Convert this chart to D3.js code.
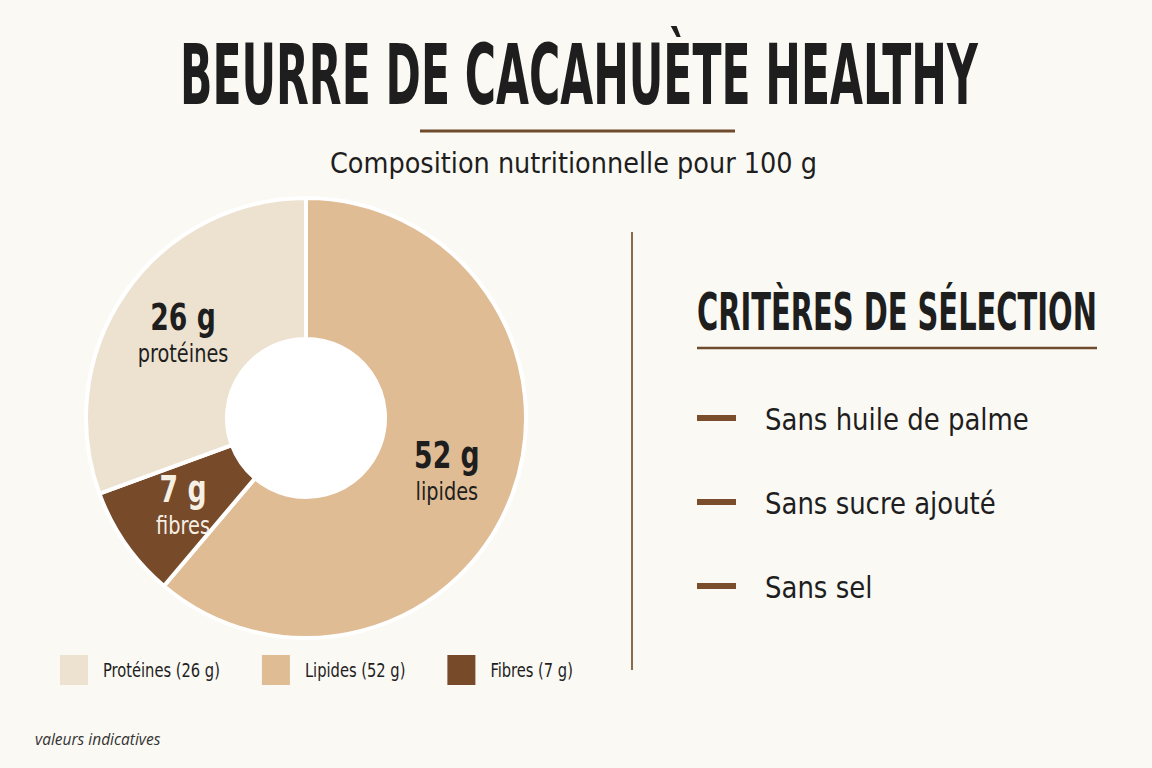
<!DOCTYPE html>
<html lang="fr">
<head>
    <meta charset="UTF-8">
    <title>Beurre de cacahuète healthy</title>
    <script src="https://d3js.org/d3.v7.min.js"></script>
    <style>
        body {
            margin: 0;
            background: #fbf9f4;
        }
        svg {
            display: block;
        }
        .cond {
            font-family: "Liberation Sans Narrow", "DejaVu Sans Condensed", "Roboto", sans-serif;
        }
        .note {
            font-family: "Open Sans", sans-serif;
            font-style: italic;
            font-size: 15.5px;
            fill: #333;
        }
    </style>
</head>
<body>

<div id="chart"></div>

<script>
    // composition pour 100 g
    const categories = ["Protéines", "Lipides", "Fibres"];
    const values = [26, 52, 7];
    const sliceNames = ["protéines", "lipides", "fibres"];
    const colors = ["#ede2d0", "#dfbc94", "#774a2a"];
    const pieOrder = ["Lipides", "Fibres", "Protéines"]; // sens horaire depuis midi
    const criteria = ["Sans huile de palme", "Sans sucre ajouté", "Sans sel"];

    const width = 1152;
    const height = 768;
    const dark = "#1e1e1e";
    const brown = "#7a4e2d";

    const svg = d3.select("#chart")
        .append("svg")
        .attr("width", width)
        .attr("height", height);

    svg.append("rect")
        .attr("width", width)
        .attr("height", height)
        .attr("fill", "#fbf9f4");

    // texte condensé : on resserre horizontalement avec un scale
    function condText(parent, x, y, size, bold, str, sx) {
        const t = parent.append("text")
            .attr("class", "cond")
            .attr("font-size", size)
            .attr("font-weight", bold ? "bold" : "normal")
            .attr("fill", dark)
            .text(str);
        t.attr("transform", `translate(${x},${y}) scale(${sx},1)`);
        return t;
    }

    function fitWidth(t, x, y, target) {
        const w = t.node().getComputedTextLength();
        t.attr("transform", `translate(${x},${y}) scale(${target / w},1)`);
        return target / w;
    }

    // titre
    const title = condText(svg, 0, 0, 84, true, "BEURRE DE CACAHUÈTE HEALTHY", 1);
    fitWidth(title, 180, 104, 798);

    svg.append("line")
        .attr("x1", 420).attr("x2", 735)
        .attr("y1", 131).attr("y2", 131)
        .attr("stroke", "#6e4b2c")
        .attr("stroke-width", 3);

    const sub = condText(svg, 0, 0, 29, false, "Composition nutritionnelle pour 100 g", 1);
    fitWidth(sub, 330, 173, 487);

    // donut
    const cx = 306, cy = 418;
    const outerR = 220, innerR = 79;

    const data = pieOrder.map(name => {
        const i = categories.indexOf(name);
        return { name: name, label: sliceNames[i], value: values[i], color: colors[i] };
    });

    const pie = d3.pie().sort(null).value(d => d.value);
    const arc = d3.arc().innerRadius(innerR).outerRadius(outerR);
    const labelArc = d3.arc().innerRadius(150).outerRadius(150);

    const g = svg.append("g").attr("transform", `translate(${cx},${cy})`);

    g.append("circle")
        .attr("r", innerR)
        .attr("fill", "#ffffff");

    g.selectAll("path")
        .data(pie(data))
        .enter()
        .append("path")
        .attr("d", arc)
        .attr("fill", d => d.data.color)
        .attr("stroke", "#ffffff")
        .attr("stroke-width", 4)
        .attr("stroke-linejoin", "round");

    pie(data).forEach(d => {
        const [px, py] = labelArc.centroid(d);
        const col = d.data.name === "Fibres" ? "#f6efe4" : dark;
        condText(g, px, py - 2, 38, true, d.data.value + " g", 0.78)
            .attr("text-anchor", "middle")
            .attr("fill", col);
        condText(g, px, py + 30, 25, false, d.data.label, 0.86)
            .attr("text-anchor", "middle")
            .attr("fill", col);
    });

    // légende
    const legend = svg.append("g").attr("transform", "translate(60,655)");
    const legendSx = 0.86;
    let lx = 0;
    categories.forEach((c, i) => {
        legend.append("rect")
            .attr("x", lx)
            .attr("width", 28)
            .attr("height", 30)
            .attr("fill", colors[i]);
        const t = condText(legend, lx + 43, 22, 19, false, `${c} (${values[i]} g)`, legendSx);
        lx += 43 + t.node().getComputedTextLength() * legendSx + 42;
    });

    // séparateur
    svg.append("line")
        .attr("x1", 632).attr("x2", 632)
        .attr("y1", 232).attr("y2", 670)
        .attr("stroke", "#8b6a4c")
        .attr("stroke-width", 2);

    // critères
    const head = condText(svg, 0, 0, 52, true, "CRITÈRES DE SÉLECTION", 1);
    fitWidth(head, 697, 330, 400);

    svg.append("line")
        .attr("x1", 697).attr("x2", 1097)
        .attr("y1", 348).attr("y2", 348)
        .attr("stroke", "#6e4b2c")
        .attr("stroke-width", 2.5);

    const y = d3.scalePoint()
        .domain(criteria)
        .range([418, 586]);

    let critSx = null;
    criteria.forEach(c => {
        svg.append("rect")
            .attr("x", 697)
            .attr("y", y(c) - 3)
            .attr("width", 39)
            .attr("height", 6)
            .attr("fill", brown);
        const t = condText(svg, 0, 0, 31, false, c, 1);
        if (critSx === null) critSx = 264 / t.node().getComputedTextLength();
        t.attr("transform", `translate(765,${y(c) + 12}) scale(${critSx},1)`);
    });

    svg.append("text")
        .attr("class", "note")
        .attr("x", 35)
        .attr("y", 745)
        .text("valeurs indicatives");
</script>
</body>
</html>
